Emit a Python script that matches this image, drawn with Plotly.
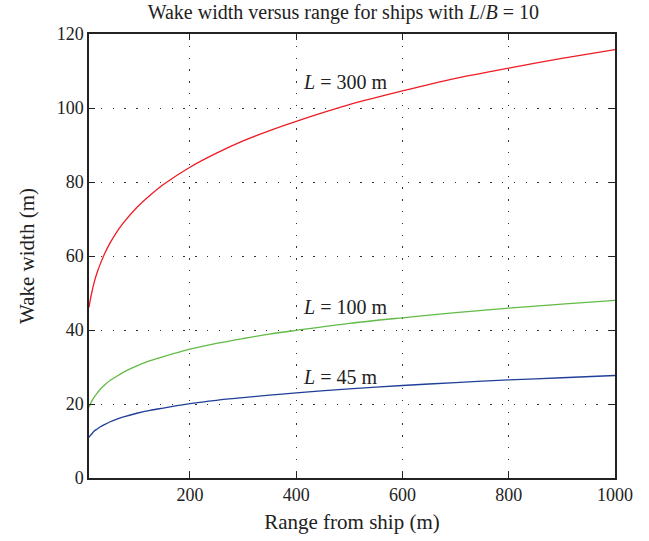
import plotly.graph_objects as go

# Range from ship (m)
range_m = [10, 12, 15, 20, 25, 30, 40, 50, 60, 75, 100, 125, 150, 200, 250, 300, 350, 400,
           500, 600, 700, 800, 900, 1000]
# Wake width (m)
width_L300 = [46.1, 47.8, 50.0, 53.0, 55.4, 57.4, 60.8, 63.6, 66.0, 69.0, 73.1, 76.4, 79.3, 84.0,
              87.8, 91.1, 93.9, 96.4, 100.9, 104.6, 108.0, 110.8, 113.4, 115.8]
width_L100 = [19.1, 19.8, 20.7, 21.9, 22.9, 23.8, 25.2, 26.4, 27.3, 28.6, 30.3, 31.7, 32.8, 34.8,
              36.4, 37.7, 38.9, 39.9, 41.8, 43.3, 44.7, 45.9, 47.0, 48.0]
width_L45 = [11.0, 11.4, 11.9, 12.7, 13.2, 13.7, 14.5, 15.2, 15.8, 16.5, 17.5, 18.3, 18.9, 20.1,
             21.0, 21.7, 22.4, 23.0, 24.1, 25.0, 25.8, 26.5, 27.1, 27.7]

labels = ["<i>L</i> = 300 m", "<i>L</i> = 100 m", "<i>L</i> = 45 m"]
label_x = [409, 409, 409]
label_y = [107, 46.3, 27.4]

x_ticks = [200, 400, 600, 800, 1000]
y_ticks = [0, 20, 40, 60, 80, 100, 120]

FONT = "Liberation Serif, DejaVu Serif, serif"
INK = "#222"

fig = go.Figure()
for ys, col in [(width_L300, "#ee1c25"), (width_L100, "#62bb46"), (width_L45, "#1f3f99")]:
    fig.add_trace(go.Scatter(x=range_m, y=ys, mode="lines",
                             line=dict(color=col, width=1.3, shape="spline", smoothing=0.8),
                             showlegend=False, hoverinfo="skip"))

for t, lx, ly in zip(labels, label_x, label_y):
    fig.add_annotation(x=lx, y=ly, text=t, showarrow=False, xanchor="left", yanchor="middle",
                       font=dict(family=FONT, size=20, color=INK))

axis_common = dict(
    showline=True, linecolor=INK, linewidth=1.5, mirror="ticks",
    ticks="inside", ticklen=6, tickwidth=1.3, tickcolor=INK,
    showgrid=True, gridcolor="#333", gridwidth=1.2, griddash="1.3px,10.5px",
    zeroline=False, tickfont=dict(family=FONT, size=18, color=INK),
)

fig.update_xaxes(range=[10, 1000], tickvals=x_ticks, ticktext=[str(v) for v in x_ticks],
                 title=dict(text="Range from ship (m)", font=dict(family=FONT, size=21, color=INK), standoff=10),
                 **axis_common)
fig.update_yaxes(range=[0, 120], tickvals=y_ticks, ticktext=[str(v) for v in y_ticks],
                 title=dict(text="Wake width (m)", font=dict(family=FONT, size=21, color=INK), standoff=16),
                 **axis_common)

fig.update_layout(
    width=649, height=541,
    margin=dict(l=89, r=34, t=34, b=63),
    paper_bgcolor="white", plot_bgcolor="white",
    title=dict(text="Wake width versus range for ships with <i>L</i>/<i>B</i> = 10",
               x=0.529, xanchor="center", xref="container", y=0.978, yanchor="middle",
               font=dict(family=FONT, size=20, color=INK)),
)

fig.write_html("out.html")
